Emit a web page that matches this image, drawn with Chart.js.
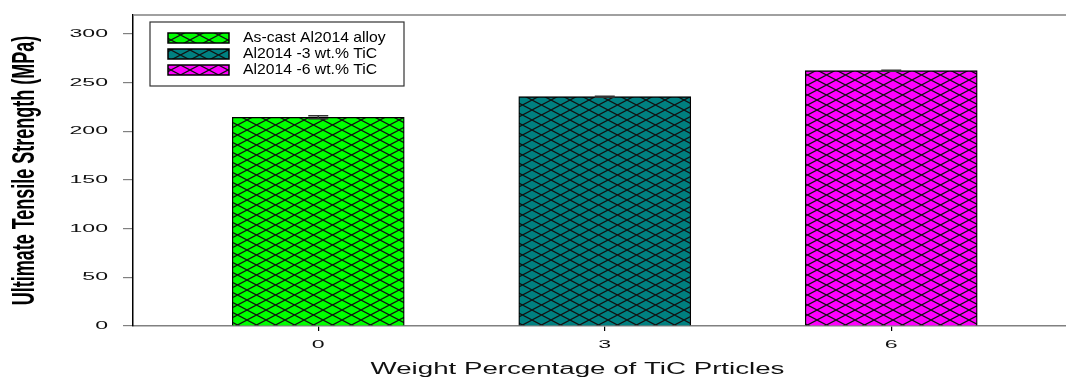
<!DOCTYPE html>
<html>
<head>
<meta charset="utf-8">
<script src="https://cdn.jsdelivr.net/npm/chart.js@4.4.1/dist/chart.umd.min.js"></script>
<style>
  html, body { margin: 0; padding: 0; background: #fff; overflow: hidden; }
</style>
</head>
<body>
<canvas id="utsChart" width="1066" height="379"></canvas>
<script>
// TiC content of each sample (wt.%)
const tic = [0, 3, 6];
// ultimate tensile strength (MPa) and its error
const uts = [214.4, 235.6, 262.3];
const utsErr = [1.5, 0.5, 0.5];
const labels = ['As-cast Al2014 alloy', 'Al2014 -3 wt.% TiC', 'Al2014 -6 wt.% TiC'];
const fills = ['#00ff00', '#008080', '#ff00ff'];
const xTicks = [0, 3, 6];
const yTicks = [0, 50, 100, 150, 200, 250, 300];

const family = '"Liberation Sans", Arial, sans-serif';

let canvas = document.getElementById('utsChart');
let ctx = canvas.getContext('2d');

// the original figure has horizontally stretched lettering, so stretch text when drawn
const stretch = {
    'Ultimate Tensile Strength (MPa)': [1, 1.7, 0],
    'Weight Percentage of TiC Prticles': [1.73, 1, -22],
    'As-cast Al2014 alloy': [1.05, 1, 0],
    'Al2014 -3 wt.% TiC': [1.05, 1, 0],
    'Al2014 -6 wt.% TiC': [1.05, 1, 0]
};
const baseFill = CanvasRenderingContext2D.prototype.fillText;
ctx.fillText = function(text, x, y, maxWidth) {
    let s = stretch[text];
    if (!s && /^\d+$/.test(String(text))) s = [2.1, 1, 0]; // tick numbers
    if (!s) {
        if (maxWidth === undefined) return baseFill.call(this, text, x, y);
        return baseFill.call(this, text, x, y, maxWidth);
    }
    this.save();
    this.translate(x + s[2], y);
    this.scale(s[0], s[1]);
    baseFill.call(this, text, 0, 0);
    this.restore();
};

// cross hatch fill like the bars in the figure
function hatch(color) {
    let c = document.createElement('canvas');
    c.width = 19;
    c.height = 10;
    let g = c.getContext('2d');
    g.fillStyle = color;
    g.fillRect(0, 0, 19, 10);
    g.strokeStyle = '#111';
    g.lineWidth = 1.2;
    g.beginPath();
    g.moveTo(-19, -10); g.lineTo(38, 20);
    g.moveTo(-19, 20); g.lineTo(38, -10);
    g.stroke();
    return ctx.createPattern(c, 'repeat');
}

const extras = {
    id: 'extras',
    afterDatasetsDraw(chart) {
        let c = chart.ctx;
        let y = chart.scales.y;
        c.save();
        c.strokeStyle = '#333';
        c.lineWidth = 1.5;
        uts.forEach(function(v, i) {
            let bar = chart.getDatasetMeta(i).data[0];
            let top = y.getPixelForValue(v + utsErr[i]);
            let bot = y.getPixelForValue(v - utsErr[i]);
            c.beginPath();
            c.moveTo(bar.x, top); c.lineTo(bar.x, bot);
            c.moveTo(bar.x - 10, top); c.lineTo(bar.x + 10, top);
            c.moveTo(bar.x - 10, bot); c.lineTo(bar.x + 10, bot);
            c.stroke();
        });
        c.restore();
    },
    afterDraw(chart) {
        let c = chart.ctx;
        let a = chart.chartArea;
        c.save();
        // top frame line
        c.strokeStyle = '#808080';
        c.lineWidth = 1.5;
        c.beginPath();
        c.moveTo(a.left, a.top); c.lineTo(a.right, a.top);
        c.stroke();
        // legend box
        let lx = a.left + 17, ly = a.top + 7;
        c.strokeStyle = '#333';
        c.lineWidth = 1.2;
        c.strokeRect(lx, ly, 254, 64);
        c.font = '15px ' + family;
        c.textBaseline = 'middle';
        c.textAlign = 'left';
        chart.data.datasets.forEach(function(ds, i) {
            let cy = ly + 16 + i * 16;
            c.fillStyle = ds.backgroundColor;
            c.fillRect(lx + 18, cy - 5, 61, 10);
            c.strokeStyle = '#000';
            c.lineWidth = 1.5;
            c.strokeRect(lx + 18, cy - 5, 61, 10);
            c.fillStyle = '#000';
            c.fillText(ds.label, lx + 93, cy);
        });
        c.restore();
    }
};

let datasets = labels.map(function(lab, i) {
    return {
        label: lab,
        data: [{x: tic[i], y: uts[i]}],
        backgroundColor: hatch(fills[i]),
        borderColor: '#000',
        borderWidth: 1.3,
        barThickness: 172,
        grouped: false
    };
});

let chart = new Chart(ctx, {
    type: 'bar',
    data: { datasets: datasets },
    plugins: [extras],
    options: {
        responsive: false,
        animation: false,
        events: [],
        layout: { padding: { top: 15, right: 0, bottom: 0, left: 0 } },
        plugins: { legend: { display: false }, tooltip: { enabled: false } },
        scales: {
            x: {
                type: 'linear',
                bounds: 'data',
                offset: false,
                min: -1.94,
                max: 7.83,
                afterBuildTicks: function(s) { s.ticks = xTicks.map(v => ({value: v})); },
                afterFit: function(s) { s.height = 53; s.paddingLeft = 0; s.paddingRight = 0; },
                grid: { offset: false, drawOnChartArea: false, drawTicks: true, tickLength: 5, color: '#000', lineWidth: 1.2 },
                border: { color: '#808080', width: 1.5 },
                ticks: { padding: 7, color: '#111', font: { family: family, size: 11 } },
                title: {
                    display: true,
                    text: 'Weight Percentage of TiC Prticles',
                    color: '#111',
                    font: { family: family, size: 16 },
                    padding: { top: 0, bottom: 0 }
                }
            },
            y: {
                bounds: 'data',
                min: 0,
                max: 319.5,
                afterBuildTicks: function(s) { s.ticks = yTicks.map(v => ({value: v})); },
                afterFit: function(s) { s.width = 133; s.paddingTop = 0; s.paddingBottom = 0; },
                grid: { drawOnChartArea: false, tickLength: 10, color: '#808080', lineWidth: 1.2 },
                border: { color: '#000', width: 1.5 },
                ticks: { padding: 15, color: '#111', font: { family: family, size: 11 } },
                title: {
                    display: true,
                    text: 'Ultimate Tensile Strength (MPa)',
                    color: '#000',
                    font: { family: family, size: 18, weight: 'bold' },
                    padding: { top: 15, bottom: 0 }
                }
            }
        }
    }
});
</script>
</body>
</html>
